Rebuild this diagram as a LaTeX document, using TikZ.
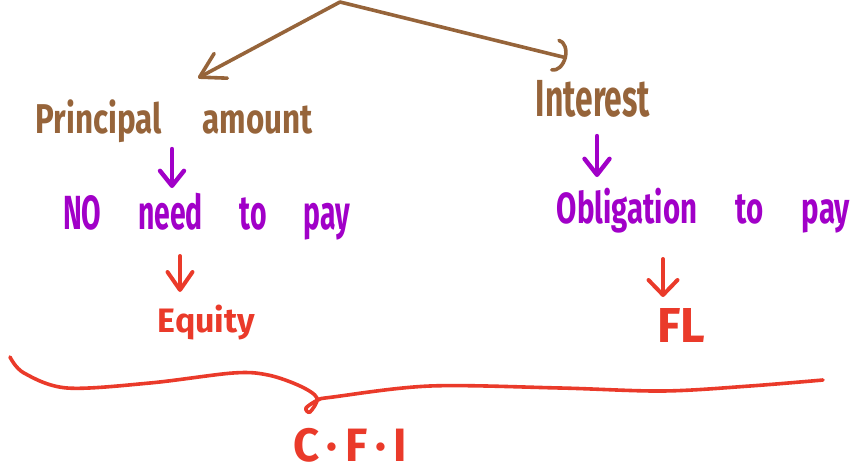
\documentclass[tikz,border=0pt]{standalone}
\usepackage{fontspec}
\setmainfont{Fira Sans}
\usepackage{graphicx}
\usetikzlibrary{arrows.meta}

\definecolor{inkbrown}{HTML}{96643A}
\definecolor{inkpurple}{HTML}{A100C8}
\definecolor{inkred}{HTML}{EA3A2A}

% scale a label to a given ink width and total height
\newcommand{\fitlabel}[3]{\resizebox*{#1}{#2}{\bfseries #3}}
\newcommand{\gap}{\hspace{1.3em}}

\begin{document}
\begin{tikzpicture}[x=1pt, y=-1pt, line cap=round, line join=round,
  lbl/.style={inner sep=0pt, outer sep=0pt, anchor=center},
  brownink/.style={draw=inkbrown, line width=3.6pt},
  purpleink/.style={draw=inkpurple, line width=4.4pt},
  redink/.style={draw=inkred, line width=4pt}]
\useasboundingbox (0,0) rectangle (858,473);

% labels
\node[lbl, text=inkbrown]  (pa)  at (174,121)   {\fitlabel{277pt}{43pt}{Principal\gap amount}};
\node[lbl, text=inkbrown]  (int) at (593,98.5)  {\fitlabel{114pt}{37pt}{Interest}};
\node[lbl, text=inkpurple] (np)  at (206.5,216.5) {\fitlabel{287pt}{47pt}{NO\gap need\gap to\gap pay}};
\node[lbl, text=inkpurple] (ob)  at (703.5,210.5) {\fitlabel{293pt}{45pt}{Obligation\gap to\gap pay}};
\node[lbl, text=inkred]    (eq)  at (206.5,322.5) {\fitlabel{97pt}{35pt}{Equity}};
\node[lbl, text=inkred]    (fl)  at (681,325)   {\fitlabel{48pt}{34pt}{FL}};
\node[lbl, text=inkred]    (cfi) at (350,445)   {\fitlabel{114pt}{34pt}{C\,·\,F\,·\,I}};

% split at the top
\coordinate (top)  at (340,2);
\coordinate (tipL) at (198,78);
\coordinate (tipR) at (567,58);
\draw[brownink, -{Straight Barb[length=24pt, width=28pt, round]}] (top) -- (tipL);
\draw[brownink, -{Arc Barb[length=12pt, width=34pt, round]}] (top) -- (tipR);

% downward arrows
\coordinate (a1s) at (172,149);
\coordinate (a1e) at (172,188);
\coordinate (a2s) at (597,136);
\coordinate (a2e) at (597,177);
\coordinate (a3s) at (180,256);
\coordinate (a3e) at (180,292);
\coordinate (a4s) at (663,259);
\coordinate (a4e) at (663,297);
\draw[purpleink, -{Straight Barb[length=15pt, width=24pt, round]}] (a1s) -- (a1e);
\draw[purpleink, -{Straight Barb[length=16pt, width=25pt, round]}] (a2s) -- (a2e);
\draw[redink, -{Straight Barb[length=18pt, width=25pt, round]}] (a3s) -- (a3e);
\draw[redink, -{Straight Barb[length=15pt, width=29pt, round]}] (a4s) -- (a4e);

% brace over both columns, with a small curl at its point
\draw[redink, line width=3.6pt] plot[smooth, tension=0.55] coordinates {
  (10,357) (24,373) (67,388) (150,383) (233,373) (268,375) (300,386) (317,398)
  (310,412) (306,408) (318,400) (333,397) (430,386) (560,388) (663,391) (750,386) (823,380)};
\end{tikzpicture}
\end{document}
